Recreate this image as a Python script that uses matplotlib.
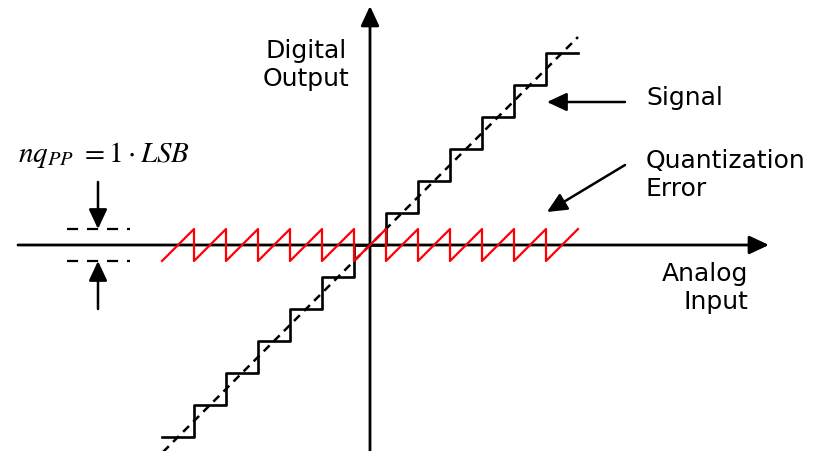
import numpy as np
import matplotlib
matplotlib.use("Agg")
import matplotlib.pyplot as plt

plt.rcParams['font.family'] = ['DejaVu Sans']
plt.rcParams['mathtext.fontset'] = 'stix'

# quantizer staircase (LSB units)
step_left = [-6.5, -5.5, -4.5, -3.5, -2.5, -1.5, -0.5, 0.5, 1.5, 2.5, 3.5, 4.5, 5.5]
step_right = [-5.5, -4.5, -3.5, -2.5, -1.5, -0.5, 0.5, 1.5, 2.5, 3.5, 4.5, 5.5, 6.5]
step_level = [-6, -5, -4, -3, -2, -1, 0, 1, 2, 3, 4, 5, 6]

# ideal transfer line
ideal_x = [-6.5, 6.5]
ideal_y = [-6.5, 6.5]

# quantization error sawtooth: ramps from -0.5 to +0.5 over each step
err_lo = -0.5
err_hi = 0.5

# labels
lsb_text = r'$nq_{PP}\ =1\cdot LSB$'


def main():
    fig = plt.figure(figsize=(8.26, 4.51), dpi=100)
    ax = fig.add_axes([0, 0, 1, 1])
    ax.set_xlim(-370 / 32, 456 / 32)
    ax.set_ylim(-206 / 32, 245 / 32)
    ax.axis('off')

    # staircase
    sx = []
    sy = []
    for l, r, v in zip(step_left, step_right, step_level):
        sx += [l, r]
        sy += [v, v]
    ax.plot(sx, sy, color='black', lw=1.9, zorder=3)

    # dashed ideal line
    ax.plot(ideal_x, ideal_y, color='black', lw=1.8, ls=(0, (3.3, 2.4)), zorder=3)

    # sawtooth
    ex = []
    ey = []
    for l, r in zip(step_left, step_right):
        ex += [l, r]
        ey += [err_lo, err_hi]
    ax.plot(ex, ey, color='red', lw=1.6, zorder=4)

    # axes with arrows
    ap = dict(arrowstyle='-|>,head_length=0.6,head_width=0.28', color='black',
              lw=2, mutation_scale=20, shrinkA=0, shrinkB=0)
    ax.annotate('', xy=(399 / 32, 0), xytext=(-352 / 32, 0), arrowprops=ap, zorder=2)
    ax.annotate('', xy=(0, 239 / 32), xytext=(0, -220 / 32), arrowprops=ap, zorder=2)

    # pointer arrows
    ap2 = dict(arrowstyle='-|>,head_length=0.6,head_width=0.28', color='black',
               lw=1.8, mutation_scale=20, shrinkA=0, shrinkB=0)
    ax.annotate('', xy=(177 / 32, 143 / 32), xytext=(255 / 32, 143 / 32), arrowprops=ap2)
    ax.annotate('', xy=(177 / 32, 33 / 32), xytext=(255 / 32, 80 / 32), arrowprops=ap2)

    # LSB marker
    ax.plot([-303 / 32, -240 / 32], [0.5, 0.5], color='black', lw=1.6, ls=(0, (5, 4)))
    ax.plot([-303 / 32, -240 / 32], [-0.5, -0.5], color='black', lw=1.6, ls=(0, (5, 4)))
    ax.annotate('', xy=(-272 / 32, 0.5), xytext=(-272 / 32, 63 / 32), arrowprops=ap2)
    ax.annotate('', xy=(-272 / 32, -0.5), xytext=(-272 / 32, -64 / 32), arrowprops=ap2)

    fs = 18
    ax.text(-64 / 32, 180 / 32, 'Digital\nOutput', fontsize=fs, ha='center', va='center',
            linespacing=1.2)
    ax.text(276 / 32, 147 / 32, 'Signal', fontsize=fs, ha='left', va='center')
    ax.text(276 / 32, 70 / 32, 'Quantization\nError', fontsize=fs, ha='left', va='center',
            linespacing=1.2)
    ax.text(378 / 32, -43 / 32, 'Analog\nInput', fontsize=fs, ha='right', va='center',
            multialignment='right', linespacing=1.2)
    ax.text(-352 / 32, 90 / 32, lsb_text, fontsize=21, ha='left', va='center')

    fig.savefig('out.png', dpi=100)


if __name__ == '__main__':
    main()
